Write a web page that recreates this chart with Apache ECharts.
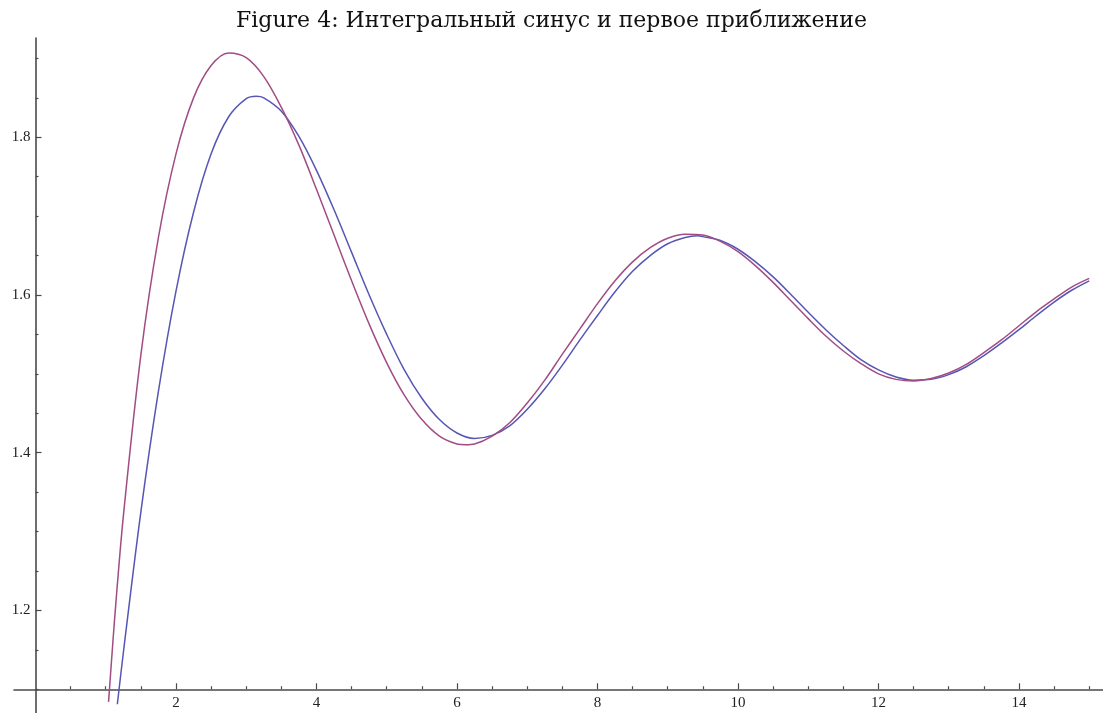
<!DOCTYPE html>
<html>
<head>
<meta charset="utf-8">
<script src="https://cdn.jsdelivr.net/npm/echarts@6.0.0/dist/echarts.min.js"></script>
<style>
  html, body { margin: 0; padding: 0; background: #ffffff; }
  #c { width: 1103px; height: 713px; }
</style>
</head>
<body>
<div id="c"></div>
<script>
// ---- Data ----
const titleText = 'Figure 4: Интегральный синус и первое приближение';

// Blue curve: integral sine Si(x)
const siX = [1.165, 1.25, 1.5, 1.75, 2, 2.25, 2.5, 2.75, 3, 3.1416, 3.25, 3.5, 3.75, 4, 4.25, 4.5, 4.75, 5,
  5.25, 5.5, 5.75, 6, 6.25, 6.5, 6.75, 7, 7.25, 7.5, 7.75, 8, 8.25, 8.5, 8.75, 9, 9.25, 9.4248, 9.5, 9.75, 10,
  10.25, 10.5, 10.75, 11, 11.25, 11.5, 11.75, 12, 12.25, 12.5, 12.75, 13, 13.25, 13.5, 13.75, 14, 14.25, 14.5, 14.75, 15];
const siY = [1.081, 1.146, 1.325, 1.478, 1.605, 1.705, 1.779, 1.826, 1.849, 1.852, 1.850, 1.833, 1.801, 1.758, 1.708, 1.654, 1.600, 1.550,
  1.505, 1.469, 1.442, 1.425, 1.418, 1.422, 1.434, 1.455, 1.481, 1.511, 1.543, 1.574, 1.604, 1.630, 1.650, 1.665, 1.673, 1.675, 1.674, 1.669, 1.658,
  1.642, 1.623, 1.601, 1.578, 1.556, 1.536, 1.518, 1.505, 1.496, 1.492, 1.493, 1.499, 1.509, 1.523, 1.539, 1.556, 1.574, 1.591, 1.606, 1.618];

// Purple curve: first approximation
const apX = [1.04, 1.1, 1.15, 1.25, 1.5, 1.75, 2, 2.25, 2.5, 2.75, 3, 3.25, 3.5, 3.75, 4, 4.25, 4.5, 4.75, 5,
  5.25, 5.5, 5.75, 6, 6.12, 6.25, 6.5, 6.75, 7, 7.25, 7.5, 7.75, 8, 8.25, 8.5, 8.75, 9, 9.25, 9.5, 9.75, 10,
  10.25, 10.5, 10.75, 11, 11.25, 11.5, 11.75, 12, 12.25, 12.5, 12.75, 13, 13.25, 13.5, 13.75, 14, 14.25, 14.5, 14.75, 15];
const apY = [1.084, 1.158, 1.216, 1.319, 1.524, 1.673, 1.779, 1.850, 1.891, 1.907, 1.901, 1.877, 1.838, 1.790, 1.734, 1.676, 1.618, 1.563, 1.514,
  1.473, 1.442, 1.421, 1.411, 1.410, 1.411, 1.421, 1.438, 1.463, 1.492, 1.525, 1.557, 1.589, 1.618, 1.642, 1.660, 1.672, 1.677, 1.676, 1.668, 1.655,
  1.637, 1.616, 1.593, 1.570, 1.548, 1.529, 1.513, 1.500, 1.493, 1.491, 1.494, 1.501, 1.512, 1.527, 1.543, 1.561, 1.579, 1.595, 1.610, 1.621];

// Tick values
const xMajorTicks = [2, 4, 6, 8, 10, 12, 14];
const xMinorTicks = [0.5, 1, 1.5, 2.5, 3, 3.5, 4.5, 5, 5.5, 6.5, 7, 7.5, 8.5, 9, 9.5, 10.5, 11, 11.5, 12.5, 13, 13.5, 14.5, 15];
const yMajorTicks = [1.2, 1.4, 1.6, 1.8];
const yMinorTicks = [1.1, 1.15, 1.25, 1.3, 1.35, 1.45, 1.5, 1.55, 1.65, 1.7, 1.75, 1.85, 1.9];

// Visible ranges and axis crossing point
const xRange = [-0.306, 15.196];
const yRange = [1.0699, 1.9259];
const yAxisCrossX = 0;
const xAxisCrossY = 1.1;

// ---- Chart ----
const AXIS = '#4a4a4a';
const LABEL_FONT = "'Liberation Serif', 'Times New Roman', serif";
const W = 1103, H = 713;
const GRID = { left: 14, right: 0, top: 38, bottom: 0, containLabel: false, outerBoundsMode: 'none' };
const plotW = W - GRID.left - GRID.right;
const plotH = H - GRID.top - GRID.bottom;
// shift axes from the grid edges onto the crossing point
const xOffset = -((xAxisCrossY - yRange[0]) / (yRange[1] - yRange[0])) * plotH;
const yOffset = -((yAxisCrossX - xRange[0]) / (xRange[1] - xRange[0])) * plotW;

const zip = (xs, ys) => xs.map((x, i) => [x, ys[i]]);

const chart = echarts.init(document.getElementById('c'), null, { renderer: 'canvas' });

const baseX = {
  type: 'value', min: xRange[0], max: xRange[1], position: 'bottom', offset: xOffset,
  splitLine: { show: false }
};
const baseY = {
  type: 'value', min: yRange[0], max: yRange[1], position: 'left', offset: yOffset,
  splitLine: { show: false }
};

chart.setOption({
  animation: false,
  backgroundColor: '#ffffff',
  title: {
    text: titleText,
    left: 'center',
    top: 5,
    textStyle: { fontFamily: "'DejaVu Serif', serif", fontSize: 22, fontWeight: 'normal', color: '#111' }
  },
  grid: GRID,
  xAxis: [
    Object.assign({}, baseX, {
      axisLine: { show: true, onZero: false, lineStyle: { color: AXIS, width: 1.6 } },
      axisTick: { show: true, inside: true, length: 6, customValues: xMajorTicks, lineStyle: { color: AXIS, width: 1.2 } },
      axisLabel: { show: true, customValues: xMajorTicks, margin: 6, fontFamily: LABEL_FONT, fontSize: 15, color: '#222' }
    }),
    Object.assign({}, baseX, {
      axisLine: { show: false, onZero: false },
      axisTick: { show: true, inside: true, length: 3, customValues: xMinorTicks, lineStyle: { color: AXIS, width: 1.2 } },
      axisLabel: { show: false }
    })
  ],
  yAxis: [
    Object.assign({}, baseY, {
      axisLine: { show: true, onZero: false, lineStyle: { color: AXIS, width: 1.6 } },
      axisTick: { show: true, inside: true, length: 6, customValues: yMajorTicks, lineStyle: { color: AXIS, width: 1.2 } },
      axisLabel: { show: true, customValues: yMajorTicks, margin: 5, fontFamily: LABEL_FONT, fontSize: 15, color: '#222',
        formatter: v => v.toFixed(1) }
    }),
    Object.assign({}, baseY, {
      axisLine: { show: false, onZero: false },
      axisTick: { show: true, inside: true, length: 3, customValues: yMinorTicks, lineStyle: { color: AXIS, width: 1.2 } },
      axisLabel: { show: false }
    })
  ],
  series: [
    {
      name: 'Si(x)', type: 'line', xAxisIndex: 0, yAxisIndex: 0,
      data: zip(siX, siY), smooth: 0.33, showSymbol: false, symbol: 'none', clip: false,
      lineStyle: { color: '#5656b4', width: 1.5 }
    },
    {
      name: 'approx', type: 'line', xAxisIndex: 0, yAxisIndex: 0,
      data: zip(apX, apY), smooth: 0.33, showSymbol: false, symbol: 'none', clip: false,
      lineStyle: { color: '#a24c84', width: 1.5 }
    }
  ]
});
</script>
</body>
</html>
